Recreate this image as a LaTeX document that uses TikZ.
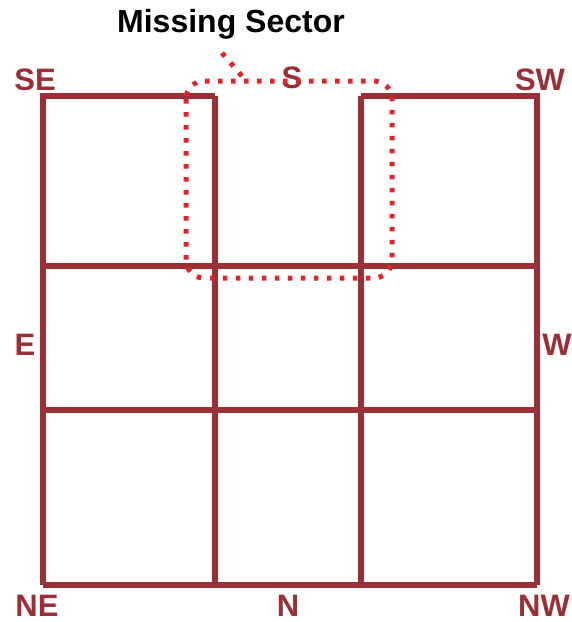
\documentclass[tikz,border=0pt]{standalone}
\usepackage{fontspec}
\setmainfont{Liberation Sans}
\usepackage{xcolor}
\definecolor{wine}{HTML}{9B2F36}
\definecolor{alarm}{HTML}{E3232B}

\tikzset{
  gridline/.style={wine, line width=5.5pt},
  dirlabel/.style={anchor=base, text=wine, inner sep=0pt,
    font=\fontsize{31}{31}\selectfont\bfseries},
  dotline/.style={alarm, line width=5pt, dash pattern=on 4.5pt off 8.5pt}
}

\begin{document}
\begin{tikzpicture}[x={(1pt,0)}, y={(0,-1pt)}]
      \useasboundingbox (0,0) rectangle (572,622);
      % grid of nine sectors, top middle edge left out
      \foreach \xp in {43, 215, 361, 537}
        \draw[gridline] (\xp, 96) -- (\xp, 585);
      \foreach \yp in {266, 410, 585}
        \draw[gridline] (43, \yp) -- (537, \yp);
      \draw[gridline] (40.25, 96) -- (215, 96);
      \draw[gridline] (361, 96) -- (539.75, 96);
      % direction labels
      \foreach \name/\xp/\yp in {SE/35/90, S/292/88, SW/540/90,
        E/25/355, W/557/355, NE/37/616, N/288/616, NW/544/616}
        \node[dirlabel] (lab\name) at (\xp, \yp) {\name};
      % missing sector outline and pointer
      \draw[dotline, rounded corners=18pt] (186, 81) rectangle (392, 278);
      \coordinate (gap) at (247, 82);
      \node[anchor=base, inner sep=0pt,
        font=\fontsize{32}{32}\selectfont\bfseries] (missing) at (231, 32)
        {Missing Sector};
      \draw[dotline] ([xshift=-9pt, yshift=-14pt]missing.south) -- (gap);
    \end{tikzpicture}
\end{document}
